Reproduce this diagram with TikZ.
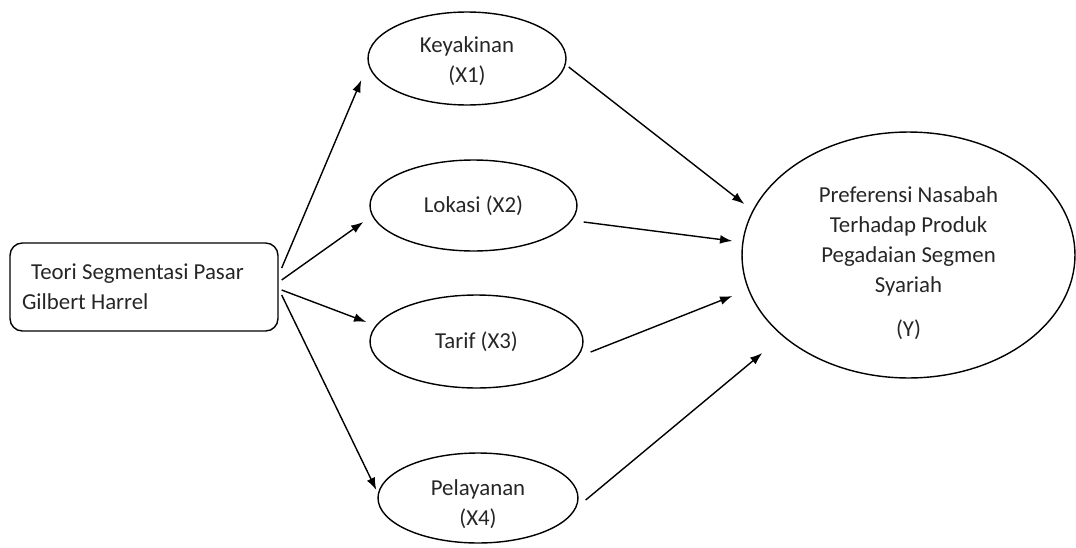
\documentclass[tikz,border=0pt]{standalone}
\usepackage{fontspec}
\setmainfont{Carlito}
\usepackage{tikz}
\usetikzlibrary{arrows.meta, positioning, shapes.geometric}

\begin{document}
\begin{tikzpicture}[x=0.02cm, y=-0.02cm, thick,
    txt/.style={font=\fontsize{13pt}{17pt}\selectfont, text=black!85},
    var/.style={draw, ellipse, align=center, inner sep=0pt, txt},
    arr/.style={-{Latex[length=7pt, width=5pt]}}]
    \useasboundingbox (0,0) rectangle (1076,548);

    % Theory box
    \node[draw, txt, rounded corners=7pt, minimum width=5.36cm, minimum height=1.76cm,
          text width=4.88cm, inner xsep=0.24cm, align=flush left] (teori) at (144,287)
          {\hspace{0.4em}Teori Segmentasi Pasar\\Gilbert Harrel};

    % Variables X
    \node[var, minimum width=3.96cm, minimum height=1.86cm] (x1) at (467,58.5) {\rule{0pt}{12.5pt}Keyakinan\\(X1)};
    \node[var, minimum width=4.14cm, minimum height=1.82cm] (x2) at (473.5,205.5) {Lokasi (X2)};
    \node[var, minimum width=4.26cm, minimum height=1.86cm] (x3) at (476.5,341.5) {Tarif (X3)};
    \node[var, minimum width=4cm, minimum height=1.8cm] (x4) at (478,498) {\rule{0pt}{16pt}Pelayanan\\(X4)};

    % Variable Y
    \node[var, minimum width=6.66cm, minimum height=4.92cm] (y) at (908.5,255)
          {\rule{0pt}{18.5pt}Preferensi Nasabah\\Terhadap Produk\\Pegadaian Segmen\\Syariah\\[0.28cm](Y)};

    % Theory to X
    \draw[arr] ([shift={(3,-19)}]teori.east) -- ([shift={(-6,21.5)}]x1.west);
    \draw[arr] ([shift={(3,-7)}]teori.east) -- ([shift={(-6,16.5)}]x2.west);
    \draw[arr] ([shift={(3,3)}]teori.east) -- ([shift={(-3,-19.5)}]x3.west);
    \draw[arr] ([shift={(3,8)}]teori.east) -- ([shift={(-1,-8)}]x4.west);

    % X to Y
    \draw[arr] ([shift={(2,8.5)}]x1.east) -- ([shift={(3,-51)}]y.west);
    \draw[arr] ([shift={(6,16.5)}]x2.east) -- ([shift={(-9,-14)}]y.west);
    \draw[arr] ([shift={(7,10.5)}]x3.east) -- ([shift={(-9,41)}]y.west);
    \draw[arr] ([shift={(7,2)}]x4.east) -- ([shift={(21,98)}]y.west);
\end{tikzpicture}
\end{document}
